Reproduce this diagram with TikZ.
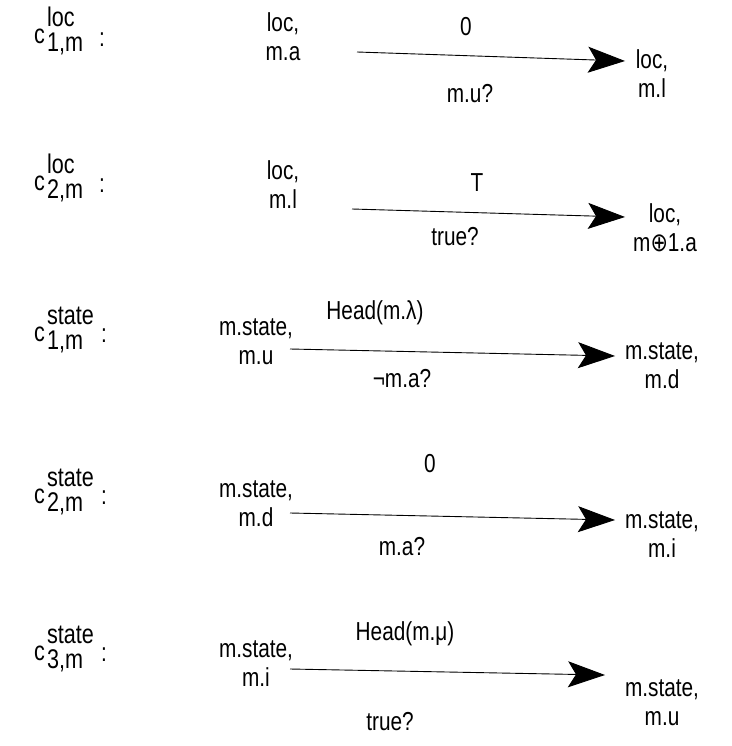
\documentclass[tikz,border=0pt]{standalone}
\usepackage{fontspec}
\setmainfont[FakeStretch=0.8]{Liberation Sans}
\newfontfamily\symf[FakeStretch=0.8]{DejaVu Sans}
\usetikzlibrary{arrows.meta}
\tikzset{
  txt/.style={inner sep=0pt, font=\fontsize{26}{29}\selectfont, align=center},
  lbl/.style={inner sep=0pt, font=\fontsize{26}{28}\selectfont},
  clbl/.style={inner sep=0pt, font=\fontsize{27}{28}\selectfont},
  arr/.style={line width=0.9pt, -{Stealth[length=37pt,width=26pt,inset=8pt]}},
}
\newcommand{\clab}[2]{c\kern2pt\rlap{\raisebox{17pt}{#1}}\raisebox{-8pt}{#2}}
\begin{document}
\begin{tikzpicture}[x=1pt,y=-1pt]
\useasboundingbox (0,0) rectangle (731,746);
% row 1
\node[clbl,anchor=base west] (c1) at (34,44) {\clab{loc}{1,m}};
\node[lbl] (k1) at (102,40) {:};
\node[txt] (l1) at (283,37) {loc,\\m.a};
\node[txt] (r1) at (652,74) {loc,\\m.l};
\coordinate (s1) at (357,52);
\coordinate (t1) at (625,61);
\draw[arr] (s1) -- (t1);
\node[lbl] (a1) at (466,27) {0};
\node[lbl] (b1) at (470,94) {m.u?};
% row 2
\node[clbl,anchor=base west] (c2) at (34,190) {\clab{loc}{2,m}};
\node[lbl] (k2) at (102,186) {:};
\node[txt] (l2) at (283,185) {loc,\\m.l};
\node[txt] (r2) at (665,228) {loc,\\m{\symf ⊕}1.a};
\coordinate (s2) at (352,209);
\coordinate (t2) at (625,217);
\draw[arr] (s2) -- (t2);
\node[lbl] (a2) at (477,183) {T};
\node[lbl] (b2) at (455,237) {true?};
% row 3
\node[clbl,anchor=base west] (c3) at (34,341) {\clab{state}{1,m}};
\node[lbl] (k3) at (104,336) {:};
\node[txt] (l3) at (256,342) {m.state,\\m.u};
\node[txt] (r3) at (662,366) {m.state,\\m.d};
\coordinate (s3) at (290,349);
\coordinate (t3) at (615,356);
\draw[arr] (s3) -- (t3);
\node[lbl] (a3) at (375,313) {Head(m.λ)};
\node[lbl] (b3) at (402,379) {¬m.a?};
% row 4
\node[clbl,anchor=base west] (c4) at (34,503) {\clab{state}{2,m}};
\node[lbl] (k4) at (104,498) {:};
\node[txt] (l4) at (256,504) {m.state,\\m.d};
\node[txt] (r4) at (662,535) {m.state,\\m.i};
\coordinate (s4) at (290,513);
\coordinate (t4) at (615,520);
\draw[arr] (s4) -- (t4);
\node[lbl] (a4) at (430,464) {0};
\node[lbl] (b4) at (402,547) {m.a?};
% row 5
\node[clbl,anchor=base west] (c5) at (34,660) {\clab{state}{3,m}};
\node[lbl] (k5) at (104,655) {:};
\node[txt] (l5) at (256,664) {m.state,\\m.i};
\node[txt] (r5) at (662,703) {m.state,\\m.u};
\coordinate (s5) at (290,669);
\coordinate (t5) at (605,675);
\draw[arr] (s5) -- (t5);
\node[lbl] (a5) at (405,634) {Head(m.μ)};
\node[lbl] (b5) at (390,722) {true?};
\end{tikzpicture}
\end{document}
